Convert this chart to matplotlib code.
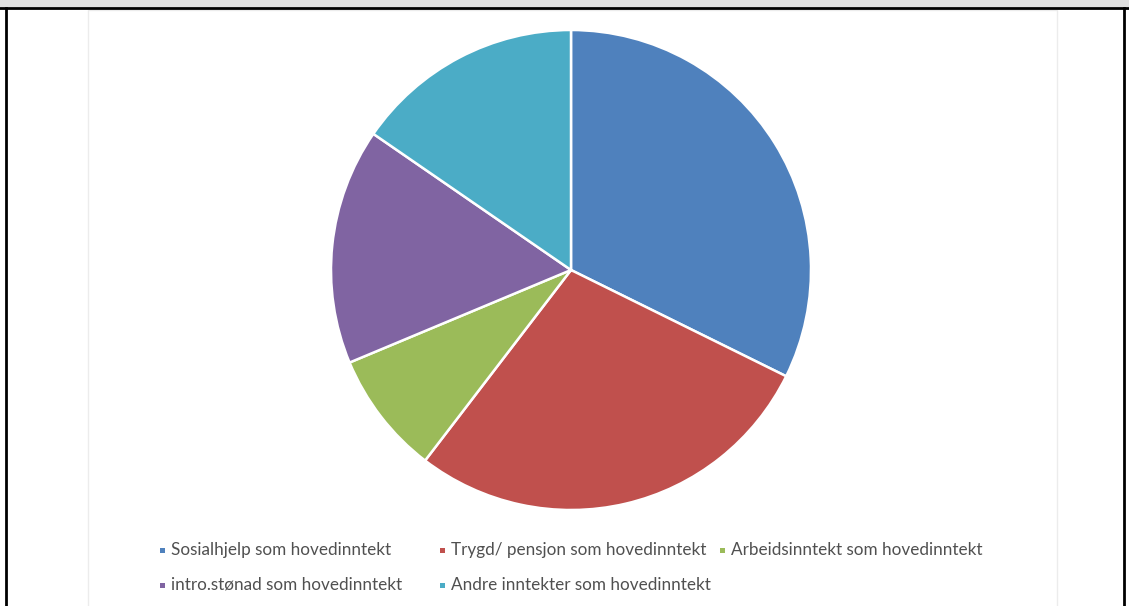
import matplotlib.pyplot as plt
from matplotlib.patches import Rectangle
from matplotlib.lines import Line2D

# ---- data ----
labels = [
    "Sosialhjelp som hovedinntekt",
    "Trygd/ pensjon som hovedinntekt",
    "Arbeidsinntekt som hovedinntekt",
    "intro.stønad som hovedinntekt",
    "Andre inntekter som hovedinntekt",
]
shares = [32.3, 28.1, 8.3, 15.9, 15.4]
colors = ["#4F81BD", "#C0504D", "#9BBB59", "#8064A2", "#4BACC6"]

W, H = 1129, 606
fig = plt.figure(figsize=(W / 100, H / 100), dpi=100)
fig.patch.set_facecolor("white")

# frame around the page: grey band on top, black rules
fig.add_artist(Rectangle((0, 1 - 7 / H), 1, 7 / H, transform=fig.transFigure,
                         facecolor="#e0e0e0", edgecolor="none"))
fig.add_artist(Line2D([0, 1], [1 - 8 / H] * 2, transform=fig.transFigure,
                      color="black", lw=2))
fig.add_artist(Line2D([6 / W] * 2, [0, 1 - 8 / H], transform=fig.transFigure,
                      color="black", lw=2))
fig.add_artist(Line2D([1124 / W] * 2, [0, 1 - 8 / H], transform=fig.transFigure,
                      color="black", lw=2))
# faint chart area border
fig.add_artist(Rectangle((88 / W, -0.01), (1057 - 88) / W, 1 - 10 / H + 0.01,
                         transform=fig.transFigure, facecolor="none",
                         edgecolor="#ececec", lw=1))

# pie
cx, cy, r = 571, 270, 240
ax = fig.add_axes([(cx - r) / W, (H - cy - r) / H, 2 * r / W, 2 * r / H])
ax.pie(shares, colors=colors, startangle=90, counterclock=False,
       wedgeprops=dict(edgecolor="white", linewidth=1.8))
ax.set_xlim(-1, 1)
ax.set_ylim(-1, 1)
ax.set_aspect("equal")
ax.axis("off")

# legend entries laid out in the Excel style: two rows, three slots
slots = [(162, 550), (442, 550), (722, 550), (162, 585), (442, 585)]
for (px, py), lab, c in zip(slots, labels, colors):
    fig.add_artist(Rectangle(((px - 2.5) / W, (H - py - 2.5) / H), 5 / W, 5 / H,
                             transform=fig.transFigure, facecolor=c,
                             edgecolor="none"))
    fig.text((px + 9) / W, (H - py) / H, lab, ha="left", va="center",
             family="Lato", fontsize=12.3, color="#505050")

fig.savefig("out.png", dpi=100)
